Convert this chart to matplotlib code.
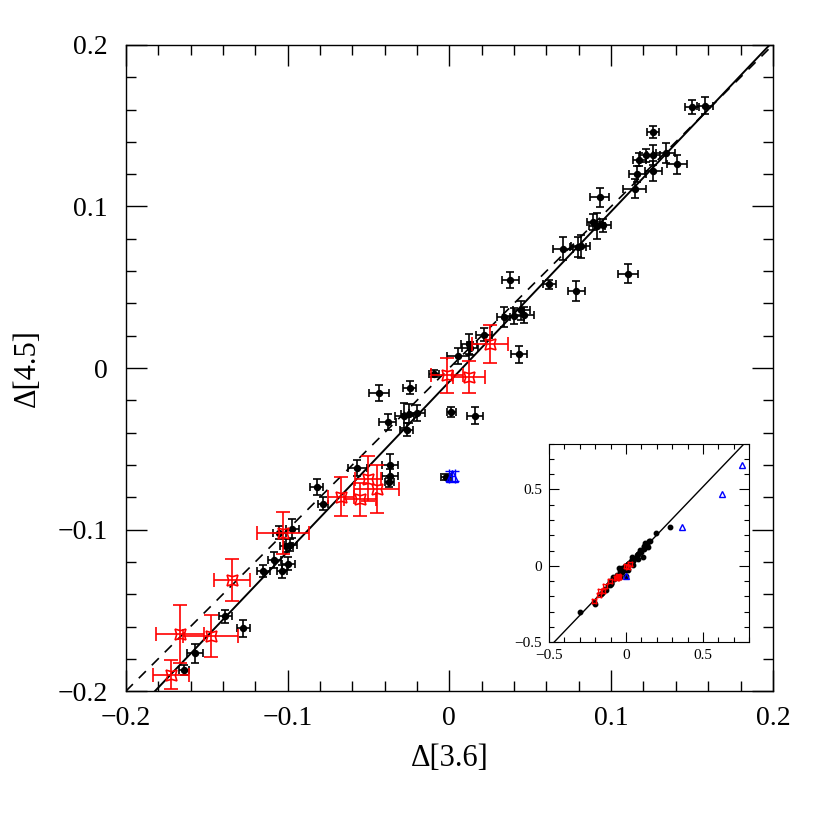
import numpy as np
import matplotlib
matplotlib.use("Agg")
import matplotlib.pyplot as plt
from matplotlib.ticker import MultipleLocator

plt.rcParams['font.family'] = ['Liberation Serif', 'DejaVu Serif']

# black points: colour differences with errors
blk_x = [0.150, 0.158, 0.1258, 0.1337, 0.126, 0.1217, 0.1174, 0.1407, 0.1262, 0.1163,
         0.1145, 0.093, 0.0889, 0.0914, 0.0951, 0.0702, 0.0797, 0.0811, 0.0617, 0.0786,
         0.1105, 0.0378, 0.0446, 0.0337, 0.0399, 0.0462, 0.0213, 0.0122, 0.0126, 0.0053,
         0.0431, -0.0094, -0.0244, -0.0434, 0.0013, 0.0157, -0.0279, -0.0248, -0.0200, -0.0382,
         -0.0262, -0.0368, -0.0568, -0.0368, -0.0370, -0.0021, -0.0819, -0.078, -0.0972, -0.1052,
         -0.1007, -0.0982, -0.1083, -0.0997, -0.1034, -0.1151, -0.1386, -0.1275, -0.1573, -0.164]
blk_y = [0.1615, 0.1625, 0.1462, 0.1330, 0.1318, 0.1316, 0.1289, 0.126, 0.1219, 0.1202,
         0.111, 0.1056, 0.0906, 0.0877, 0.0883, 0.0739, 0.0749, 0.0753, 0.0518, 0.0477,
         0.0584, 0.0547, 0.0357, 0.0317, 0.0323, 0.0331, 0.0207, 0.0149, 0.0122, 0.0073,
         0.0084, -0.0035, -0.0122, -0.0156, -0.0274, -0.0294, -0.0294, -0.0283, -0.0277, -0.0335,
         -0.0382, -0.0601, -0.0621, -0.0666, -0.0708, -0.0674, -0.0737, -0.084, -0.0994, -0.1019,
         -0.1101, -0.1095, -0.1188, -0.1211, -0.1258, -0.1256, -0.1536, -0.1612, -0.1765, -0.1868]
blk_xerr = [0.0045, 0.005, 0.0037, 0.006, 0.004, 0.004, 0.004, 0.006, 0.005, 0.005,
            0.007, 0.006, 0.004, 0.005, 0.005, 0.006, 0.005, 0.006, 0.004, 0.005,
            0.006, 0.005, 0.005, 0.004, 0.006, 0.006, 0.005, 0.005, 0.005, 0.007,
            0.005, 0.003, 0.004, 0.006, 0.003, 0.005, 0.006, 0.005, 0.005, 0.005,
            0.004, 0.005, 0.006, 0.005, 0.003, 0.003, 0.004, 0.003, 0.004, 0.004,
            0.004, 0.004, 0.004, 0.004, 0.003, 0.004, 0.004, 0.004, 0.005, 0.003]
blk_yerr = [0.0045, 0.005, 0.0035, 0.006, 0.006, 0.004, 0.004, 0.006, 0.006, 0.005,
            0.006, 0.006, 0.005, 0.008, 0.004, 0.007, 0.006, 0.007, 0.003, 0.006,
            0.006, 0.005, 0.006, 0.006, 0.005, 0.005, 0.004, 0.006, 0.004, 0.005,
            0.005, 0.002, 0.004, 0.005, 0.003, 0.005, 0.008, 0.006, 0.005, 0.005,
            0.004, 0.007, 0.005, 0.004, 0.003, 0.002, 0.005, 0.004, 0.006, 0.004,
            0.004, 0.004, 0.005, 0.004, 0.004, 0.004, 0.004, 0.005, 0.006, 0.003]

# red points
red_x = [0.0250, -0.0015, 0.0121, -0.0504, -0.0449, -0.0671, -0.0553, -0.1028,
         -0.1343, -0.1666, -0.1476, -0.1722]
red_y = [0.0149, -0.0045, -0.0057, -0.0685, -0.0747, -0.0796, -0.0813, -0.1023,
         -0.1314, -0.1648, -0.1658, -0.1899]
red_xerr = [0.011, 0.010, 0.010, 0.008, 0.014, 0.008, 0.010, 0.016, 0.011, 0.015, 0.017, 0.011]
red_yerr = [0.012, 0.011, 0.010, 0.014, 0.015, 0.012, 0.010, 0.013, 0.013, 0.018, 0.013, 0.009]

# blue point
blue_x = [0.0015]
blue_y = [-0.067]
blue_xerr = [0.002]
blue_yerr = [0.003]

# extra points visible only in the inset
inset_blk_x = [-0.30, -0.205, -0.20, 0.196, 0.283]
inset_blk_y = [-0.30, -0.235, -0.25, 0.216, 0.255]
inset_red_x = [-0.21]
inset_red_y = [-0.23]
inset_blue_x = [0.361, 0.622, 0.752]
inset_blue_y = [0.255, 0.468, 0.657]

# fitted relation
fit_slope = 1.0526
fit_icpt = -0.0084

star = (4, 1, 45)


def tick_fmt(v, p):
    if abs(v) < 1e-9:
        return '0'
    return f'{v:.1f}'.replace('-', '\u2212')


fig = plt.figure(figsize=(8.17, 8.17), dpi=100)
ax = fig.add_axes([0.154, 0.154, 0.792, 0.791])

ax.errorbar(blk_x, blk_y, xerr=blk_xerr, yerr=blk_yerr, fmt='o', color='black',
            ms=4.3, elinewidth=1.2, capsize=3, capthick=1.2, zorder=3)
ax.errorbar(red_x, red_y, xerr=red_xerr, yerr=red_yerr, fmt='none', ecolor='red',
            elinewidth=1.2, capsize=5, capthick=1.2, zorder=4)
ax.plot(red_x, red_y, linestyle='none', marker=star, ms=11, mfc='none', mec='red', mew=1.2, zorder=5)
ax.errorbar(blue_x, blue_y, xerr=blue_xerr, yerr=blue_yerr, fmt='^', color='blue',
            ms=8, mfc='none', mew=1.0, elinewidth=1.0, capsize=5, capthick=1.0, zorder=5)

xl = np.array([-0.2, 0.2])
ax.plot(xl, xl, color='black', lw=1.2, ls=(0, (6, 5)), zorder=2)
ax.plot(xl, fit_slope * xl + fit_icpt, color='black', lw=1.4, zorder=2)

ax.set_xlim(-0.2, 0.2)
ax.set_ylim(-0.2, 0.2)
ax.xaxis.set_major_locator(MultipleLocator(0.1))
ax.yaxis.set_major_locator(MultipleLocator(0.1))
ax.xaxis.set_minor_locator(MultipleLocator(0.02))
ax.yaxis.set_minor_locator(MultipleLocator(0.02))
ax.tick_params(which='both', direction='in', top=True, right=True, width=1.0)
ax.tick_params(which='major', length=15, labelsize=20)
ax.tick_params(axis='x', which='major', pad=11)
ax.tick_params(axis='y', which='major', pad=13)
ax.tick_params(which='minor', length=7)
ax.xaxis.set_major_formatter(plt.FuncFormatter(tick_fmt))
ax.yaxis.set_major_formatter(plt.FuncFormatter(tick_fmt))
ax.set_xlabel('Δ[3.6]', fontsize=22, labelpad=9)
ax.set_ylabel('Δ[4.5]', fontsize=22, labelpad=11)
for s in ax.spines.values():
    s.set_linewidth(1.0)

# inset with the full range
ins = fig.add_axes([0.672, 0.214, 0.245, 0.243])
ins.plot(blk_x + inset_blk_x, blk_y + inset_blk_y, 'o', color='black', ms=3.2, zorder=3)
ins.plot(red_x + inset_red_x, red_y + inset_red_y, linestyle='none', marker=star, ms=5,
         mfc='none', mec='red', mew=1.0, zorder=4)
ins.plot(blue_x + inset_blue_x, blue_y + inset_blue_y, linestyle='none', marker='^', ms=4.5,
         mfc='none', mec='blue', mew=1.0, zorder=4)
xi = np.array([-0.6, 0.9])
ins.plot(xi, fit_slope * xi + fit_icpt, color='black', lw=1.0, zorder=2)
ins.set_xlim(-0.5, 0.8)
ins.set_ylim(-0.5, 0.8)
ins.xaxis.set_major_locator(MultipleLocator(0.5))
ins.yaxis.set_major_locator(MultipleLocator(0.5))
ins.xaxis.set_minor_locator(MultipleLocator(0.1))
ins.yaxis.set_minor_locator(MultipleLocator(0.1))
ins.tick_params(which='both', direction='in', top=True, right=True, width=0.8)
ins.tick_params(which='major', length=7, labelsize=11, pad=5)
ins.tick_params(which='minor', length=3.5)
ins.xaxis.set_major_formatter(plt.FuncFormatter(tick_fmt))
ins.yaxis.set_major_formatter(plt.FuncFormatter(tick_fmt))
for s in ins.spines.values():
    s.set_linewidth(0.8)

fig.savefig('out.png', dpi=100)
